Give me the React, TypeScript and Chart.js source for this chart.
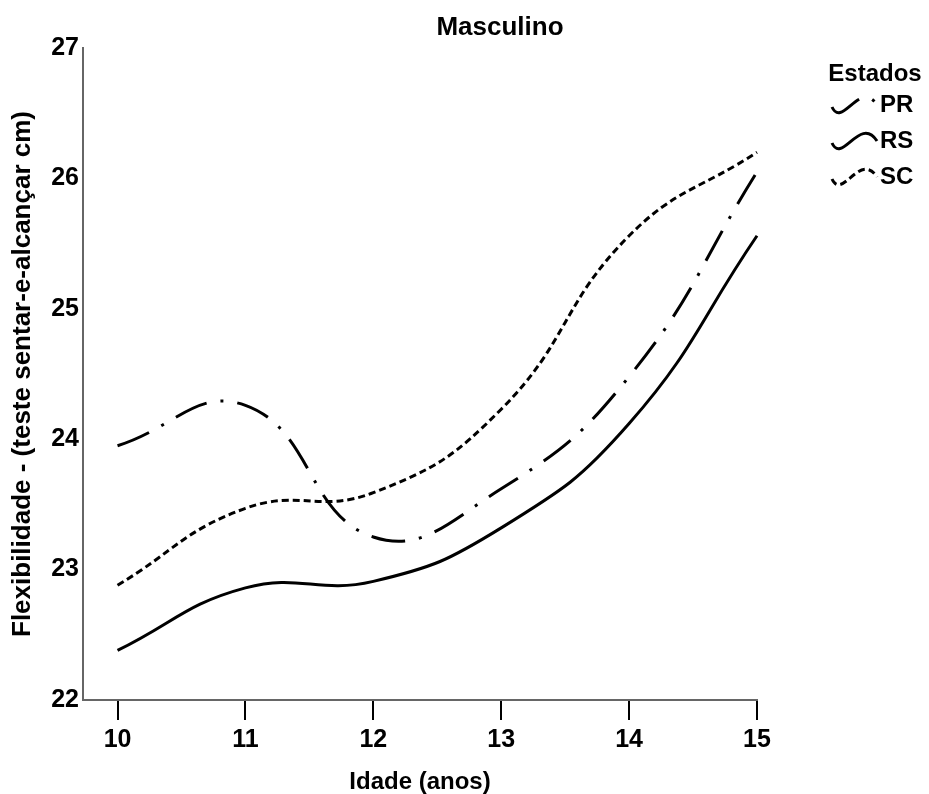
import React, { useEffect, useRef } from "react";
import { Chart, registerables } from "chart.js";

Chart.register(...registerables);

const ages = [10, 11, 12, 13, 14, 15];
const xTickValues = [10, 11, 12, 13, 14, 15];
const seriesNames = ["PR", "RS", "SC"];
const prValues = [23.95, 24.26, 23.25, 23.62, 24.48, 26.05];
const rsValues = [22.38, 22.86, 22.91, 23.32, 24.12, 25.56];
const scValues = [22.88, 23.47, 23.59, 24.23, 25.56, 26.2];
const chartTitle = "Masculino";
const xTitle = "Idade (anos)";
const yTitle = "Flexibilidade - (teste sentar-e-alcançar cm)";
const legendTitle = "Estados";

const FONT = "'Liberation Sans', Arial, Helvetica, sans-serif";
const dashes: number[][] = [[34, 14, 3, 14], [], [7, 4]];

const legendPlugin = {
  id: "customLegend",
  afterDraw(chart: any) {
    const ctx = chart.ctx;
    ctx.save();
    ctx.fillStyle = "#000";
    ctx.textBaseline = "middle";
    ctx.textAlign = "center";
    ctx.font = `bold 26px ${FONT}`;
    ctx.fillText(chartTitle, 500, 28);
    ctx.font = `bold 24px ${FONT}`;
    ctx.fillText(legendTitle, 875, 74);
    const ys = [105, 141, 177];
    chart.data.datasets.forEach((ds: any, i: number) => {
      const c = ys[i];
      ctx.beginPath();
      ctx.setLineDash(ds.borderDash || []);
      ctx.lineWidth = 3;
      ctx.strokeStyle = "#000";
      ctx.moveTo(832, c + 2);
      ctx.bezierCurveTo(842, c + 24, 860, c - 26, 877, c);
      ctx.stroke();
      ctx.setLineDash([]);
      ctx.textAlign = "left";
      ctx.fillText(ds.label, 880, c);
    });
    ctx.restore();
  },
};

export default function App() {
  const ref = useRef<HTMLCanvasElement | null>(null);
  useEffect(() => {
    if (!ref.current) return;
    const values = [prValues, rsValues, scValues];
    const chart = new Chart(ref.current, {
      type: "line",
      data: {
        datasets: seriesNames.map((name, i) => ({
          label: name,
          data: ages.map((a, j) => ({ x: a, y: values[i][j] })),
          borderColor: "#000",
          borderWidth: 3,
          borderDash: dashes[i],
          pointRadius: 0,
          tension: 0.45,
          fill: false,
          clip: false as any,
        })),
      },
      options: {
        responsive: false,
        animation: false,
        layout: { padding: { top: 48, right: 172, left: 0, bottom: 0 } },
        plugins: {
          legend: { display: false },
          tooltip: { enabled: false },
          title: { display: false },
        },
        scales: {
          x: {
            type: "linear",
            min: 9.73,
            max: 15,
            afterBuildTicks: (scale: any) => {
              scale.ticks = xTickValues.map((v) => ({ value: v }));
            },
            afterFit: (scale: any) => {
              scale.height = 94;
            },
            ticks: {
              color: "#000",
              font: { size: 25, weight: "bold", family: FONT },
              padding: 5,
              maxRotation: 0,
              autoSkip: false,
              callback: (v: any) => String(v),
            },
            grid: {
              display: true,
              drawOnChartArea: false,
              drawTicks: true,
              tickLength: 20,
              color: "#000",
              lineWidth: 2,
            },
            border: { display: true, color: "#666", width: 2 },
            title: {
              display: true,
              text: xTitle,
              color: "#000",
              font: { size: 24, weight: "bold", family: FONT, lineHeight: 1 },
              padding: 0,
            },
          },
          y: {
            type: "linear",
            min: 22,
            max: 27,
            afterFit: (scale: any) => {
              scale.width = 83;
            },
            ticks: {
              stepSize: 1,
              color: "#000",
              font: { size: 25, weight: "bold", family: FONT },
              padding: 4,
            },
            grid: { display: false, drawTicks: false, tickLength: 0 },
            border: { display: true, color: "#666", width: 2 },
            title: {
              display: true,
              text: yTitle,
              color: "#000",
              font: { size: 26, weight: "bold", family: FONT, lineHeight: 1 },
              padding: 10,
            },
          },
        },
      },
      plugins: [legendPlugin],
    } as any);
    return () => chart.destroy();
  }, []);
  return (
    <div style={{ position: "fixed", left: 0, top: 0, width: 929, height: 794, background: "#fff" }}>
      <canvas ref={ref} width={929} height={794} />
    </div>
  );
}
